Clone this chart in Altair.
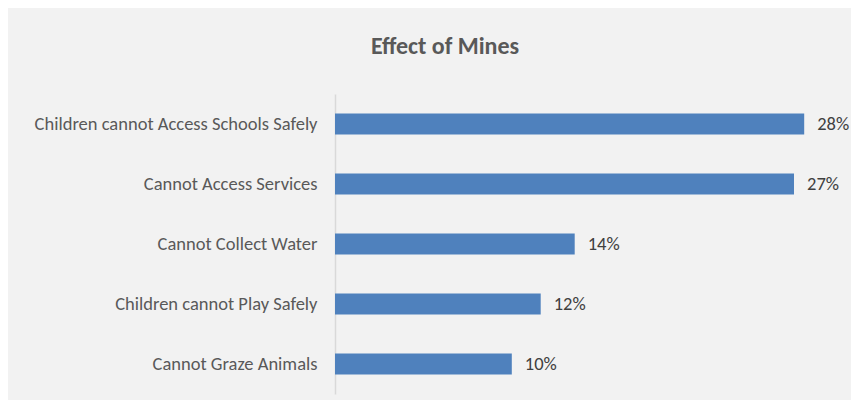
import altair as alt
import pandas as pd

categories = [
    "Children cannot Access Schools Safely",
    "Cannot Access Services",
    "Cannot Collect Water",
    "Children cannot Play Safely",
    "Cannot Graze Animals",
]
values = [27.6, 27.0, 14.1, 12.1, 10.4]
labels = ["28%", "27%", "14%", "12%", "10%"]

df = pd.DataFrame({"category": categories, "value": values, "label": labels})

FONT = "Carlito, Lato, Open Sans, sans-serif"

y_enc = alt.Y(
    "category:N",
    sort=categories,
    scale=alt.Scale(paddingInner=0.65, paddingOuter=0.325),
    axis=alt.Axis(
        title=None,
        ticks=False,
        grid=False,
        domain=True,
        domainColor="#d9d9d9",
        domainWidth=1.5,
        labelFont=FONT,
        labelFontSize=18.5,
        labelColor="#595959",
        labelPadding=18,
        labelLimit=400,
    ),
)
x_enc = alt.X(
    "value:Q",
    scale=alt.Scale(domain=[0, 30], nice=False, zero=True),
    axis=None,
)

bars = alt.Chart(df).mark_bar(color="#4f81bd").encode(x=x_enc, y=y_enc)
text = alt.Chart(df).mark_text(
    align="left", baseline="middle", dx=13, font=FONT, fontSize=18.5, color="#404040"
).encode(x=x_enc, y=y_enc, text="label:N")

chart = (
    alt.layer(bars, text)
    .properties(
        width=510,
        height=300,
        padding={"left": 327, "top": 86, "right": 6, "bottom": 6},
        autosize=alt.AutoSizeParams(type="none"),
        background="#f2f2f2",
        title=alt.TitleParams(
            "Effect of Mines",
            font=FONT,
            fontSize=24,
            fontWeight="bold",
            color="#595959",
            anchor="middle",
            dx=-145,
            offset=35,
        ),
    )
    .configure_view(stroke=None)
)

chart.save("out.html", embed_options={"renderer": "svg", "actions": False})
